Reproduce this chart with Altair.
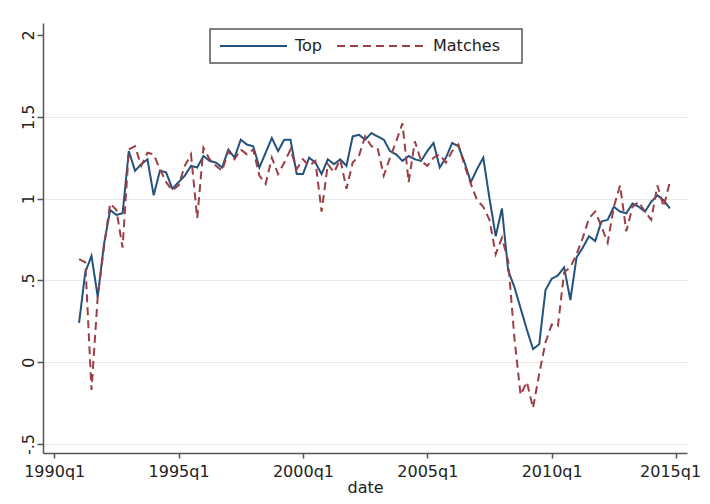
import altair as alt
import pandas as pd

# quarterly dates 1991q1 .. 2014q4
quarters = [f"{1991 + i // 4}q{i % 4 + 1}" for i in range(96)]

top = [
    0.24, 0.55, 0.65, 0.40, 0.72, 0.93, 0.90, 0.91,   # 1991-1992
    1.29, 1.17, 1.21, 1.24, 1.02, 1.17, 1.16, 1.06,   # 1993-1994
    1.10, 1.14, 1.20, 1.19, 1.26, 1.23, 1.22, 1.19,   # 1995-1996
    1.30, 1.25, 1.36, 1.33, 1.32, 1.19, 1.28, 1.37,   # 1997-1998
    1.29, 1.36, 1.36, 1.15, 1.15, 1.25, 1.22, 1.15,   # 1999-2000
    1.24, 1.21, 1.24, 1.20, 1.38, 1.39, 1.36, 1.40,   # 2001-2002
    1.38, 1.36, 1.29, 1.27, 1.23, 1.26, 1.24, 1.23,   # 2003-2004
    1.29, 1.34, 1.19, 1.25, 1.34, 1.32, 1.22, 1.10,   # 2005-2006
    1.18, 1.25, 1.00, 0.77, 0.94, 0.56, 0.46, 0.33,   # 2007-2008
    0.20, 0.08, 0.11, 0.44, 0.51, 0.53, 0.58, 0.38,   # 2009-2010
    0.64, 0.70, 0.77, 0.74, 0.86, 0.87, 0.95, 0.92,   # 2011-2012
    0.91, 0.97, 0.95, 0.92, 0.98, 1.02, 0.99, 0.94,   # 2013-2014
]

matches = [
    0.63, 0.61, -0.17, 0.40, 0.70, 0.97, 0.93, 0.70,  # 1991-1992
    1.30, 1.32, 1.20, 1.28, 1.27, 1.18, 1.10, 1.05,   # 1993-1994
    1.08, 1.20, 1.27, 0.88, 1.31, 1.24, 1.20, 1.17,   # 1995-1996
    1.29, 1.24, 1.30, 1.27, 1.30, 1.14, 1.09, 1.25,   # 1997-1998
    1.15, 1.22, 1.30, 1.18, 1.24, 1.20, 1.23, 0.92,   # 1999-2000
    1.21, 1.16, 1.24, 1.06, 1.22, 1.26, 1.38, 1.32,   # 2001-2002
    1.31, 1.14, 1.25, 1.35, 1.46, 1.10, 1.35, 1.23,   # 2003-2004
    1.20, 1.25, 1.27, 1.22, 1.29, 1.33, 1.20, 1.09,   # 2005-2006
    0.99, 0.95, 0.87, 0.66, 0.76, 0.62, 0.15, -0.20,  # 2007-2008
    -0.12, -0.28, -0.07, 0.12, 0.23, 0.22, 0.55, 0.58,  # 2009-2010
    0.66, 0.76, 0.88, 0.92, 0.83, 0.73, 0.95, 1.08,   # 2011-2012
    0.80, 0.95, 0.98, 0.92, 0.87, 1.08, 0.95, 1.10,   # 2013-2014
]

series_names = ["Top", "Matches"]
series_colors = ["#23527c", "#9c3e45"]
series_dash = [[1, 0], [8, 5]]

x_ticks = [1990, 1995, 2000, 2005, 2010, 2015]
y_ticks = [-0.5, 0, 0.5, 1, 1.5, 2]
y_tick_labels = ["-.5", "0", ".5", "1", "1.5", "2"]


def qnum(label):
    y, q = label.split("q")
    return int(y) + (int(q) - 1) / 4


rows = []
for name, vals in zip(series_names, [top, matches]):
    for lab, v in zip(quarters, vals):
        rows.append({"series": name, "t": qnum(lab), "value": v})
df = pd.DataFrame(rows)

ylab_expr = " : ".join(
    f"datum.value == {v} ? '{l}'" for v, l in zip(y_ticks, y_tick_labels)
) + " : ''"

FONT = "DejaVu Sans"
AX = "#555555"
TXT = "#222222"

color_enc = alt.Color(
    "series:N",
    scale=alt.Scale(domain=series_names, range=series_colors),
    legend=None,
)
dash_enc = alt.StrokeDash(
    "series:N",
    scale=alt.Scale(domain=series_names, range=series_dash),
    legend=None,
)

lines = (
    alt.Chart(df)
    .mark_line(strokeWidth=2)
    .encode(
        x=alt.X(
            "t:Q",
            scale=alt.Scale(domain=[1989.55, 2015.44], nice=False, zero=False),
            axis=alt.Axis(
                values=x_ticks,
                labelExpr="datum.value + 'q1'",
                title="date",
                grid=False,
                domainColor=AX,
                domainWidth=1.5,
                tickColor=AX,
                tickWidth=1.5,
                tickSize=5,
                labelFont=FONT,
                labelFontSize=16,
                labelColor=TXT,
                labelPadding=5,
                labelFlush=False,
                labelOffset={"condition": {"test": "datum.value == 2015", "value": -6}, "value": 0},
                titleFont=FONT,
                titleFontSize=16,
                titleFontWeight="normal",
                titleColor=TXT,
                titlePadding=0,
            ),
        ),
        y=alt.Y(
            "value:Q",
            scale=alt.Scale(domain=[-0.555, 2.073], nice=False, zero=False),
            axis=alt.Axis(
                values=y_ticks,
                labelExpr=ylab_expr,
                title=None,
                grid=True,
                gridColor={"condition": {"test": "datum.value == 2", "value": "transparent"}, "value": "#e8e8e8"},
                gridWidth=1.2,
                domainColor=AX,
                domainWidth=1.5,
                tickColor=AX,
                tickWidth=1.5,
                tickSize=6,
                labelFont=FONT,
                labelFontSize=16,
                labelColor=TXT,
                labelAngle=270,
                labelAlign="center",
                labelBaseline="alphabetic",
                labelPadding=4,
                labelFlush=False,
            ),
        ),
        color=color_enc,
        strokeDash=dash_enc,
        order=alt.Order("t:Q"),
    )
)

# legend box (drawn in pixel space of the plot area, like Stata's ring(0) legend)
legend_box = (
    alt.Chart(pd.DataFrame({"series": ["legend"]}))
    .mark_rect(fill="white", stroke="#555555", strokeWidth=1.5)
    .encode(x=alt.value(167), x2=alt.value(479), y=alt.value(6), y2=alt.value(40))
)

key_spans = [(177, 244, 252), (294, 384, 390)]
legend_layers = [legend_box]
for name, (k0, k1, tx) in zip(series_names, key_spans):
    one = pd.DataFrame({"series": [name]})
    legend_layers.append(
        alt.Chart(one)
        .mark_rule(strokeWidth=2)
        .encode(x=alt.value(k0), x2=alt.value(k1), y=alt.value(23), color=color_enc, strokeDash=dash_enc)
    )
    legend_layers.append(
        alt.Chart(one)
        .mark_text(align="left", baseline="middle", font=FONT, fontSize=16, color=TXT)
        .encode(x=alt.value(tx), y=alt.value(23), text="series:N")
    )

chart = (
    alt.layer(lines, *legend_layers)
    .properties(
        width=644,
        height=430,
        padding={"left": 35, "top": 15, "right": 15, "bottom": 43},
        autosize=alt.AutoSizeParams(type="none"),
        background="white",
    )
    .configure_view(strokeWidth=0)
)

chart.save("out.html", embed_options={"renderer": "svg", "actions": False})
